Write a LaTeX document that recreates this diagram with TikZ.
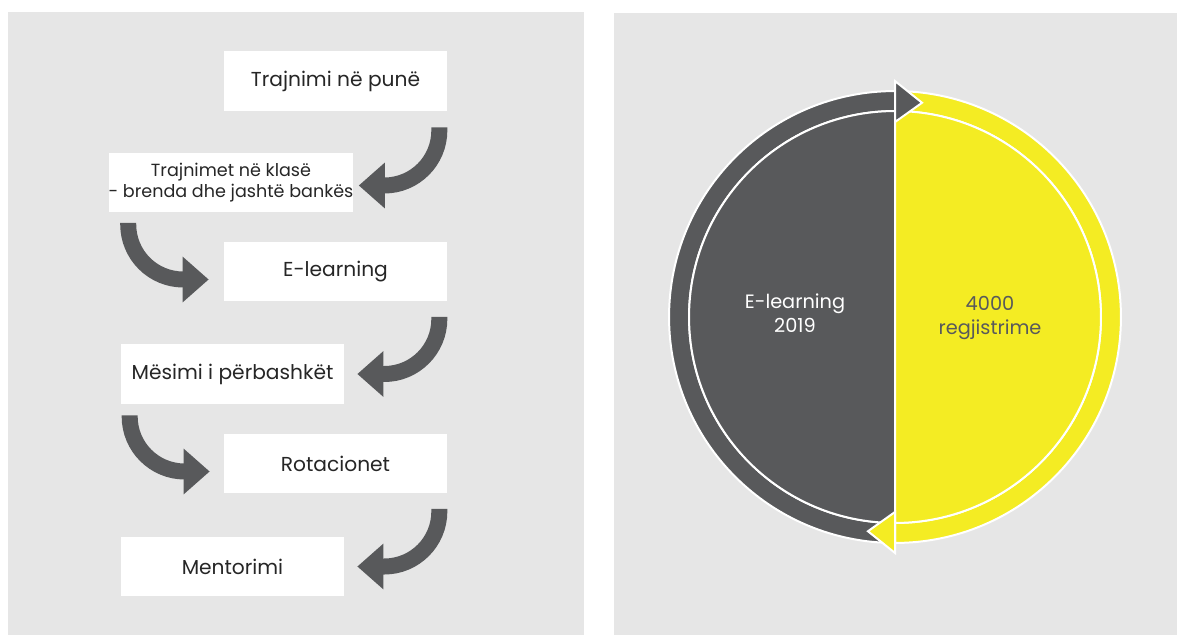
\documentclass[tikz,border=0pt]{standalone}
\usepackage{fontspec}
\setmainfont{Poppins}
\usepackage{xcolor}
\usepackage{tikz}
\usetikzlibrary{arrows.meta,calc}

\definecolor{panelgray}{RGB}{230,230,230}
\definecolor{slate}{RGB}{88,89,91}
\definecolor{eyyellow}{RGB}{244,236,35}

\begin{document}
\begin{tikzpicture}[x=0.02cm, y=-0.02cm,
        panel/.style={fill=panelgray},
        stepbox/.style={rectangle, fill=white, minimum width=4.46cm, minimum height=1.2cm, inner sep=0pt, align=center, text=black!85, font=\fontsize{11.5}{13}\selectfont},
        curvearrow/.style={draw=slate, line width=0.32cm, rounded corners=1.1cm, -{Triangle[width=0.88cm,length=0.52cm]}},
        ringedge/.style={draw=white, line width=0.04cm, line join=miter},
        circtext/.style={align=center, font=\fontsize{11}{14}\selectfont}
    ]

    \fill[white] (0,0) rectangle (1178,635);
    \useasboundingbox (0,0) rectangle (1178,635);

    % === Panels ===
    \fill[panel] (8,12) rectangle (584,635);
    \fill[panel] (614,13) rectangle (1177,635);

    % === Training steps (left) ===
    \node[stepbox] (step1) at (335.5,81) {Trajnimi në punë};
    \node[stepbox, minimum width=4.84cm, font=\fontsize{10}{12}\selectfont] (step2) at (231,182.5) {Trajnimet në klasë\\- brenda dhe jashtë bankës};
    \node[stepbox] (step3) at (335.5,271.5) {E-learning};
    \node[stepbox] (step4) at (232.5,374) {Mësimi i përbashkët};
    \node[stepbox] (step5) at (335.5,463.5) {Rotacionet};
    \node[stepbox] (step6) at (232.5,566.5) {Mentorimi};

    % curved arrows between the steps
    \draw[curvearrow] ($(step1.south east)+(-8,16)$) |- ($(step2.east)+(5,3)$);
    \draw[curvearrow] ($(step2.south west)+(20,10)$) |- ($(step3.west)+(-15,8)$);
    \draw[curvearrow] ($(step3.south east)+(-8,15)$) |- ($(step4.east)+(13,0)$);
    \draw[curvearrow] ($(step4.south west)+(9,11)$) |- ($(step5.west)+(-14,8)$);
    \draw[curvearrow] ($(step5.south east)+(-8,15)$) |- ($(step6.east)+(13,0)$);

    % === Cycle (right) ===
    \coordinate (c) at (895,317);

    % ring halves
    \filldraw[fill=slate, ringedge] ($(c)+(90:4.52cm)$) arc[start angle=90, end angle=270, radius=4.52cm]
        -- ($(c)+(270:4.12cm)$) arc[start angle=270, end angle=90, radius=4.12cm] -- cycle;
    \filldraw[fill=eyyellow, ringedge] ($(c)+(90:4.52cm)$) arc[start angle=90, end angle=-90, radius=4.52cm]
        -- ($(c)+(-90:4.12cm)$) arc[start angle=-90, end angle=90, radius=4.12cm] -- cycle;

    % inner halves
    \filldraw[fill=slate, ringedge] ($(c)+(90:4.12cm)$) arc[start angle=90, end angle=270, radius=4.12cm] -- cycle;
    \filldraw[fill=eyyellow, ringedge] ($(c)+(90:4.12cm)$) arc[start angle=90, end angle=-90, radius=4.12cm] -- cycle;

    % arrow heads on the ring
    \filldraw[fill=slate, ringedge] ($(c)+(90:4.72cm)$) -- ($(c)+(82.8:4.32cm)$) -- ($(c)+(90:3.9cm)$) -- cycle;
    \filldraw[fill=eyyellow, ringedge] ($(c)+(270:4.72cm)$) -- ($(c)+(262.8:4.32cm)$) -- ($(c)+(270:3.9cm)$) -- cycle;

    \node[circtext, text=white] (year) at (795,313) {E-learning\\2019};
    \node[circtext, text=slate] (count) at (990,318) {4000\\regjistrime};

\end{tikzpicture}
\end{document}
